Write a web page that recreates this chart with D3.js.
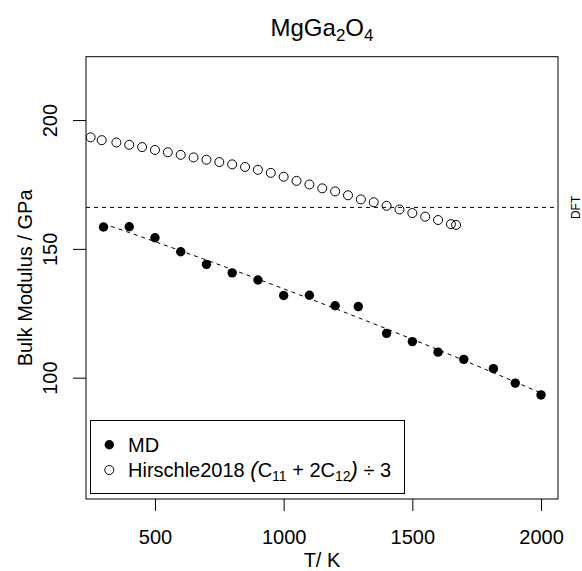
<!DOCTYPE html>
<html>
<head>
<meta charset="utf-8">
<script src="https://cdn.jsdelivr.net/npm/d3@7"></script>
<style>
  body { margin: 0; background: #fff; }
  svg { font-family: "Liberation Sans", Arial, sans-serif; }
</style>
</head>
<body>
<svg id="chart" width="582" height="571"></svg>
<script>
// MD bulk modulus vs temperature
const mdT = [300, 400, 500, 600, 700, 800, 900, 1000, 1100, 1200, 1290, 1400, 1500, 1600, 1700, 1815, 1900, 2000]
const mdK = [158.5, 158.6, 154.3, 148.9, 144.0, 140.7, 137.9, 131.9, 132.0, 127.9, 127.6, 117.2, 114.0, 109.9, 107.1, 103.5, 97.9, 93.3]

// Hirschle2018 (C11 + 2C12)/3
const hirT = [250, 293, 350, 400, 450, 500, 550, 600, 650, 700, 750, 800, 850, 900, 950, 1000, 1050, 1100,
  1150, 1200, 1250, 1300, 1350, 1400, 1450, 1500, 1550, 1600, 1650, 1670]
const hirK = [193.3, 192.2, 191.3, 190.4, 189.5, 188.4, 187.5, 186.5, 185.5, 184.6, 183.7, 182.8, 181.8, 180.7,
  179.5, 178.0, 176.4, 175.0, 173.5, 172.3, 170.8, 169.2, 168.1, 166.7, 165.3, 163.9, 162.5, 161.2, 159.6, 159.3]

const dftK = 166.1

const xTicks = [500, 1000, 1500, 2000]
const yTicks = [100, 150, 200]

const svg = d3.select('#chart')

// plot region
const pL = 86, pR = 558, pT = 56.7, pB = 499

const x = d3.scaleLinear().domain([232, 2066]).range([pL, pR])
const y = d3.scaleLinear().domain([52.9, 224.6]).range([pB, pT])

svg.append('defs').append('clipPath').attr('id', 'plotclip')
  .append('rect')
  .attr('x', pL).attr('y', pT)
  .attr('width', pR - pL).attr('height', pB - pT)

// Title with subscripts
const title = svg.append('text')
  .attr('x', (pL + pR) / 2)
  .attr('y', 36)
  .attr('text-anchor', 'middle')
  .attr('font-size', 24)
title.append('tspan').text('MgGa')
title.append('tspan').attr('font-size', 17).attr('dy', 5).text('2')
title.append('tspan').attr('dy', -5).text('O')
title.append('tspan').attr('font-size', 17).attr('dy', 5).text('4')

// x axis
const xAxis = svg.append('g')
  .attr('transform', `translate(0,${pB})`)
  .call(d3.axisBottom(x).tickValues(xTicks).tickSize(12).tickPadding(18.5).tickFormat(d3.format('d')))
xAxis.select('.domain').remove()
xAxis.selectAll('text').attr('font-size', 20).attr('font-family', null).attr('fill', '#000')
xAxis.selectAll('line').attr('stroke', '#000')

// y axis, labels rotated as in base R
const yAxis = svg.append('g')
  .attr('transform', `translate(${pL},0)`)
  .call(d3.axisLeft(y).tickValues(yTicks).tickSize(13).tickFormat(d3.format('d')))
yAxis.select('.domain').remove()
yAxis.selectAll('line').attr('stroke', '#000')
yAxis.selectAll('text')
  .attr('font-size', 20).attr('font-family', null).attr('fill', '#000')
  .attr('text-anchor', 'middle')
  .attr('transform', 'rotate(-90)')
  .attr('x', 0).attr('y', -29).attr('dy', 0)

// axis titles
svg.append('text')
  .attr('x', (pL + pR) / 2).attr('y', 567)
  .attr('text-anchor', 'middle').attr('font-size', 20)
  .text('T/ K')

svg.append('text')
  .attr('transform', `translate(32,${(pT + pB) / 2}) rotate(-90)`)
  .attr('text-anchor', 'middle').attr('font-size', 20)
  .text('Bulk Modulus / GPa')

const plot = svg.append('g').attr('clip-path', 'url(#plotclip)')

// DFT reference line
plot.append('line')
  .attr('x1', pL).attr('x2', pR)
  .attr('y1', y(dftK)).attr('y2', y(dftK))
  .attr('stroke', '#000').attr('stroke-width', 1)
  .attr('stroke-dasharray', '4,4')

svg.append('text')
  .attr('transform', `translate(580,${y(dftK)}) rotate(-90)`)
  .attr('text-anchor', 'middle').attr('font-size', 12)
  .text('DFT')

// quadratic least-squares fit of MD data
const mdPts = mdT.map((t, i) => [t, mdK[i]])
const tc = d3.mean(mdT)
function quadFit(ts, ks) {
  // normal equations for k = a + b*u + c*u^2, u = (t - tc) / 1000
  const S = [[0, 0, 0], [0, 0, 0], [0, 0, 0]], r = [0, 0, 0]
  ts.forEach((t, i) => {
    const u = (t - tc) / 1000, v = [1, u, u * u]
    for (let a = 0; a < 3; a++) {
      r[a] += v[a] * ks[i]
      for (let b = 0; b < 3; b++) S[a][b] += v[a] * v[b]
    }
  })
  // gaussian elimination
  for (let i = 0; i < 3; i++) {
    for (let j = i + 1; j < 3; j++) {
      const f = S[j][i] / S[i][i]
      for (let k = i; k < 3; k++) S[j][k] -= f * S[i][k]
      r[j] -= f * r[i]
    }
  }
  const c = [0, 0, 0]
  for (let i = 2; i >= 0; i--) {
    let s = r[i]
    for (let k = i + 1; k < 3; k++) s -= S[i][k] * c[k]
    c[i] = s / S[i][i]
  }
  return t => { const u = (t - tc) / 1000; return c[0] + c[1] * u + c[2] * u * u }
}
const fit = quadFit(mdT, mdK)

const fitLine = d3.line().x(t => x(t)).y(t => y(fit(t)))
plot.append('path')
  .attr('d', fitLine(mdT))
  .attr('fill', 'none')
  .attr('stroke', '#000').attr('stroke-width', 1)
  .attr('stroke-dasharray', '4,4')

// Hirschle points (open)
plot.selectAll('circle.hir')
  .data(hirT.map((t, i) => [t, hirK[i]]))
  .enter().append('circle')
  .attr('class', 'hir')
  .attr('cx', d => x(d[0])).attr('cy', d => y(d[1]))
  .attr('r', 4.5)
  .attr('fill', 'none').attr('stroke', '#000').attr('stroke-width', 1)

// MD points (filled)
plot.selectAll('circle.md')
  .data(mdPts)
  .enter().append('circle')
  .attr('class', 'md')
  .attr('cx', d => x(d[0])).attr('cy', d => y(d[1]))
  .attr('r', 4.7)
  .attr('fill', '#000')

// plot box
svg.append('rect')
  .attr('x', pL).attr('y', pT)
  .attr('width', pR - pL).attr('height', pB - pT)
  .attr('fill', 'none').attr('stroke', '#000').attr('stroke-width', 1)

// legend
const lg = svg.append('g')
lg.append('rect')
  .attr('x', 90.5).attr('y', 420.5)
  .attr('width', 314).attr('height', 73)
  .attr('fill', '#fff').attr('stroke', '#000').attr('stroke-width', 1)

lg.append('circle').attr('cx', 109.3).attr('cy', 444.7).attr('r', 4.7).attr('fill', '#000')
lg.append('text').attr('x', 128).attr('y', 451.7).attr('font-size', 20).text('MD')

lg.append('circle').attr('cx', 109.3).attr('cy', 470).attr('r', 4.5)
  .attr('fill', 'none').attr('stroke', '#000').attr('stroke-width', 1)
const lt = lg.append('text').attr('x', 128).attr('y', 476.7).attr('font-size', 20)
lt.append('tspan').text('Hirschle2018 ')
lt.append('tspan').attr('font-style', 'italic').attr('font-size', 22).text('(')
lt.append('tspan').text('C')
lt.append('tspan').attr('font-size', 14).attr('dy', 4).text('11')
lt.append('tspan').attr('dy', -4).text(' + 2C')
lt.append('tspan').attr('font-size', 14).attr('dy', 4).text('12')
lt.append('tspan').attr('dy', -4).attr('font-style', 'italic').attr('font-size', 22).text(')')
lt.append('tspan').text(' \u00f7 3')
</script>
</body>
</html>
